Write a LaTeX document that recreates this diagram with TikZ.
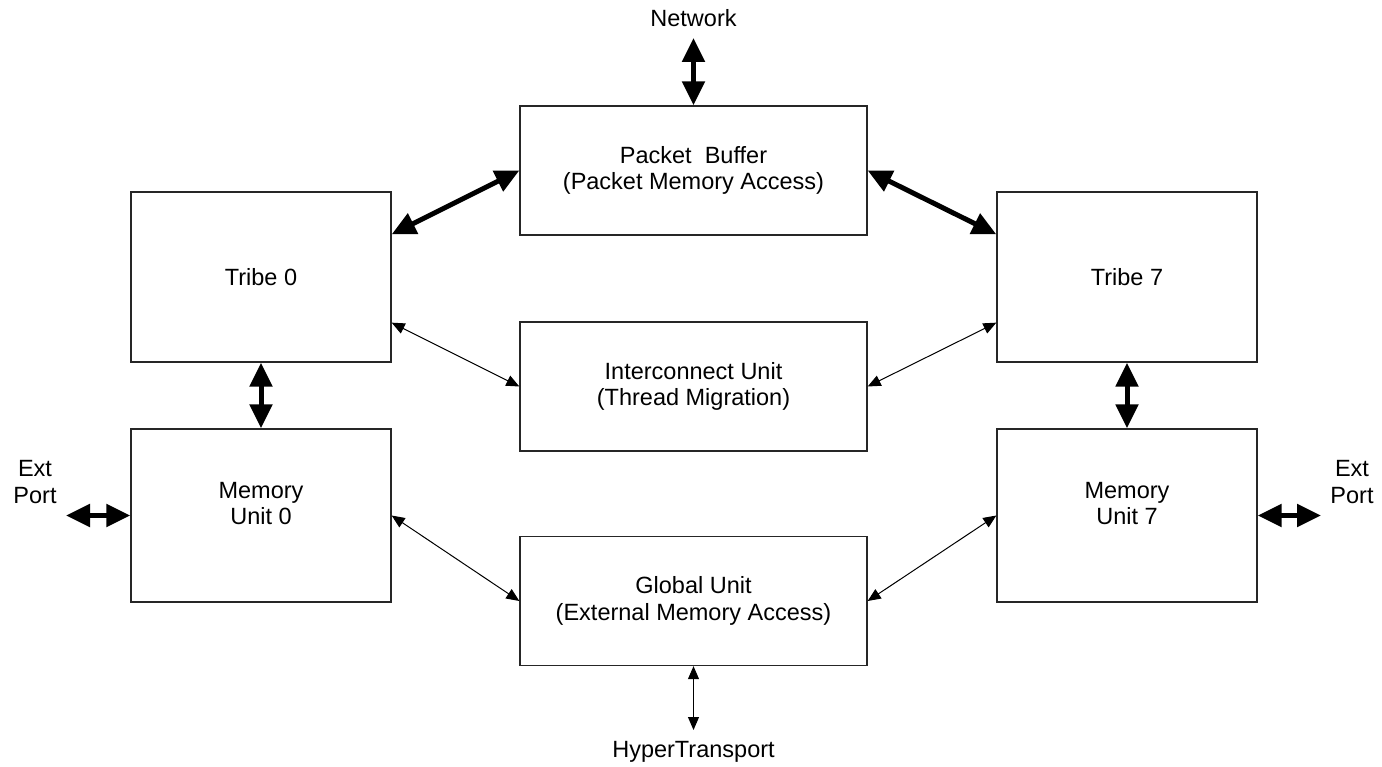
\documentclass[tikz,border=0pt]{standalone}
\usepackage{fontspec}
\setmainfont{Liberation Sans}
\usetikzlibrary{arrows.meta}
\begin{document}
\begin{tikzpicture}[x=1pt,y=-1pt,
  every node/.style={font=\fontsize{23.5}{26.5}\selectfont, align=center},
  unit/.style={draw=black!85, line width=1.3pt, inner sep=0pt},
  sidebox/.style={unit, minimum width=260pt, minimum height=170pt},
  midbox/.style={unit, minimum width=347pt, minimum height=129pt},
  bus/.style={line width=5pt, {Triangle[length=24pt,width=22pt]}-{Triangle[length=24pt,width=22pt]}},
  link/.style={line width=1pt, {Triangle[length=13pt,width=11pt]}-{Triangle[length=13pt,width=11pt]}},
  label/.style={inner sep=0pt}]
\useasboundingbox (0,0) rectangle (1382,767);

% central column
\node[midbox] (pb) at (693.5,170.5) {Packet\ \ Buffer\\(Packet Memory Access)};
\node[midbox] (ic) at (693.5,386.5) {Interconnect Unit\\(Thread Migration)};
\node[midbox] (gu) at (693.5,601) {Global Unit\\(External Memory Access)};

% side columns
\node[sidebox] (t0) at (261,277) {Tribe 0};
\node[sidebox] (t7) at (1127,277) {Tribe 7};
\node[sidebox, minimum height=173pt] (m0) at (261,515.5) {};
\node[sidebox, minimum height=173pt] (m7) at (1127,515.5) {};
\node[label] (m0text) at ([yshift=12pt]m0.center) {Memory\\Unit 0};
\node[label] (m7text) at ([yshift=12pt]m7.center) {Memory\\Unit 7};

% external labels
\node[label] (net) at (693.5,18) {Network};
\node[label] (ht) at (693.5,752) {HyperTransport};
\node[label] (extl) at (35,482) {Ext\\Port};
\node[label] (extr) at (1352,482) {Ext\\Port};
\coordinate (netend) at (693.5,38);
\coordinate (htend) at (693.5,730);
\coordinate (elend) at (66,515.5);
\coordinate (erend) at (1321,515.5);

% wide data paths
\draw[bus] (netend) -- (pb.north);
\draw[bus] ([yshift=-43pt]t0.north east) -- (pb.west);
\draw[bus] (pb.east) -- ([yshift=-43pt]t7.north west);
\draw[bus] (t0.south) -- (m0.north);
\draw[bus] (t7.south) -- (m7.north);
\draw[bus] (elend) -- (m0.west);
\draw[bus] (m7.east) -- (erend);

% narrow links
\draw[link] ([yshift=40pt]t0.south east) -- (ic.west);
\draw[link] (ic.east) -- ([yshift=40pt]t7.south west);
\draw[link] (m0.east) -- (gu.west);
\draw[link] (gu.east) -- (m7.west);
\draw[link] (gu.south) -- (htend);
\end{tikzpicture}
\end{document}
